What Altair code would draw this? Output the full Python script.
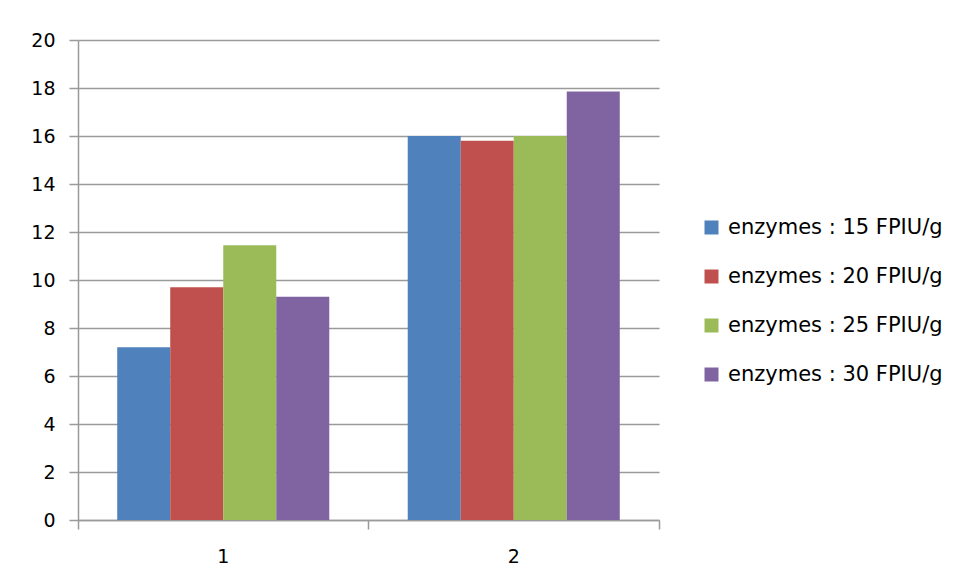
import altair as alt
import pandas as pd

categories = ["1", "2"]
series = [
    "enzymes : 15 FPIU/g",
    "enzymes : 20 FPIU/g",
    "enzymes : 25 FPIU/g",
    "enzymes : 30 FPIU/g",
]
vals_15 = [7.2, 16.0]
vals_20 = [9.7, 15.8]
vals_25 = [11.45, 16.0]
vals_30 = [9.3, 17.85]
colors = ["#4F81BD", "#C0504D", "#9BBB59", "#8064A2"]
y_ticks = list(range(0, 21, 2))

rows = []
for s, vals in zip(series, [vals_15, vals_20, vals_25, vals_30]):
    for c, v in zip(categories, vals):
        rows.append({"category": c, "series": s, "value": v})
df = pd.DataFrame(rows)

FONT = "DejaVu Sans"
GRID = "#9a9a9a"

chart = (
    alt.Chart(df)
    .mark_bar()
    .encode(
        x=alt.X(
            "category:N",
            sort=categories,
            scale=alt.Scale(paddingInner=0, paddingOuter=0),
            axis=alt.Axis(
                title=None,
                labelAngle=0,
                bandPosition=1,
                tickExtra=True,
                tickSize=9,
                tickColor=GRID,
                tickWidth=1.5,
                domainColor=GRID,
                domainWidth=1.5,
                labelPadding=18,
                labelFont=FONT,
                labelFontSize=19,
                labelColor="#000000",
                grid=False,
            ),
        ),
        xOffset=alt.XOffset(
            "series:N",
            sort=series,
            scale=alt.Scale(paddingInner=0, paddingOuter=0.74),
        ),
        y=alt.Y(
            "value:Q",
            scale=alt.Scale(domain=[0, 20], nice=False),
            axis=alt.Axis(
                title=None,
                values=y_ticks,
                tickSize=9,
                tickColor=GRID,
                tickWidth=1.5,
                domainColor=GRID,
                domainWidth=1.5,
                gridColor=GRID,
                gridWidth=1.5,
                labelPadding=14,
                labelFont=FONT,
                labelFontSize=19,
                labelColor="#000000",
            ),
        ),
        color=alt.Color(
            "series:N",
            sort=series,
            scale=alt.Scale(domain=series, range=colors),
            legend=alt.Legend(
                title=None,
                orient="none",
                legendX=623,
                legendY=177,
                padding=0,
                symbolType="square",
                symbolSize=196,
                symbolStrokeWidth=0,
                symbolOpacity=1,
                labelOffset=6,
                rowPadding=27,
                labelFont=FONT,
                labelFontSize=21,
                labelColor="#000000",
                labelLimit=400,
            ),
        ),
    )
    .properties(
        width=581,
        height=480,
        autosize=alt.AutoSizeParams(type="none"),
        padding={"left": 70, "top": 32, "right": 290, "bottom": 52},
    )
    .configure_view(stroke=None)
)

chart.save("out.html", embed_options={"renderer": "svg", "actions": False})
